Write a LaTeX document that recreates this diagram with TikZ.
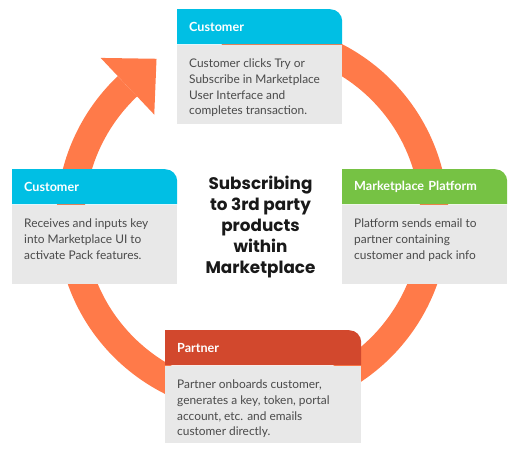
\documentclass[tikz,border=0pt]{standalone}
\usepackage{fontspec}
\setmainfont{Lato}
\newfontfamily\titlefont{Poppins}
\usepackage{tikz}
\usetikzlibrary{positioning}
\definecolor{ringorange}{HTML}{FF7A49}
\definecolor{hdcyan}{HTML}{00BFE4}
\definecolor{hdgreen}{HTML}{76C244}
\definecolor{hdred}{HTML}{D2482D}
\definecolor{boxgrey}{HTML}{E8E8E8}
\definecolor{txtgrey}{HTML}{4A4A4A}

\begin{document}
\begin{tikzpicture}[x=1pt,y=1pt,
    ring/.style={draw=ringorange, line width=28pt},
    head/.style={anchor=north west, minimum height=35pt, inner xsep=12pt,
        inner ysep=0pt, align=left, text=white,
        font=\bfseries\fontsize{12.6}{14}\selectfont},
    hdfill/.style={path picture={\fill[#1]
        (path picture bounding box.south west)
        -- (path picture bounding box.north west)
        -- ([xshift=-12pt]path picture bounding box.north east)
        arc[start angle=90, end angle=0, radius=12pt]
        -- (path picture bounding box.south east) -- cycle;}},
    bodybox/.style={fill=boxgrey, inner sep=0pt},
    bodytext/.style={inner sep=0pt, align=left, text=txtgrey,
        font=\fontsize{11.9}{15.6}\selectfont},
    title/.style={align=center, inner sep=0pt, text=black!90,
        font=\titlefont\bfseries\fontsize{16.8}{21}\selectfont}]
    \useasboundingbox (0,0) rectangle (517,454);

    % ring with arrow head
    \draw[ring] (252.5,235.5) ++(100:182)
        arc[start angle=100, end angle=-226.6, radius=182] coordinate (tb);
    \fill[ringorange] ([shift={(133.4:39)}]tb) -- ([shift={(43.4:40)}]tb)
        -- ([shift={(-46.6:39)}]tb) -- cycle;

    \node[head, hdfill=hdcyan, text width=141pt] (cust1) at (177,445) {Customer};
    \node[bodybox, minimum width=165pt, minimum height=79pt, below=0pt of cust1] (cust1b) {};
    \node[bodytext, anchor=north west, below right=14.5pt and 12pt of cust1.south west] (cust1t)
        {Customer clicks Try or\\Subscribe in Marketplace\\User Interface and\\completes transaction.};

    \node[head, hdfill=hdgreen, text width=141pt] (plat) at (342,285) {Marketplace Platform};
    \node[bodybox, minimum width=165pt, minimum height=79pt, below=0pt of plat] (platb) {};
    \node[bodytext, anchor=north west, below right=14.5pt and 12pt of plat.south west] (platt)
        {Platform sends email to\\partner containing\\customer and pack info};

    \node[head, hdfill=hdred, text width=172pt] (part) at (165,124) {Partner};
    \node[bodybox, minimum width=196pt, minimum height=77pt, below=0pt of part] (partb) {};
    \node[bodytext, anchor=north west, below right=14.5pt and 12pt of part.south west] (partt)
        {Partner onboards customer,\\generates a key, token, portal\\account, etc. and emails\\customer directly.};

    \node[head, hdfill=hdcyan, text width=141pt] (cust2) at (12,285) {Customer};
    \node[bodybox, minimum width=165pt, minimum height=79pt, below=0pt of cust2] (cust2b) {};
    \node[bodytext, anchor=north west, below right=14.5pt and 12pt of cust2.south west] (cust2t)
        {Receives and inputs key\\into Marketplace UI to\\activate Pack features.};

    \node[title] (ttl) at (260.5,227)
        {Subscribing\\to 3rd party\\products\\within\\Marketplace};
\end{tikzpicture}
\end{document}
